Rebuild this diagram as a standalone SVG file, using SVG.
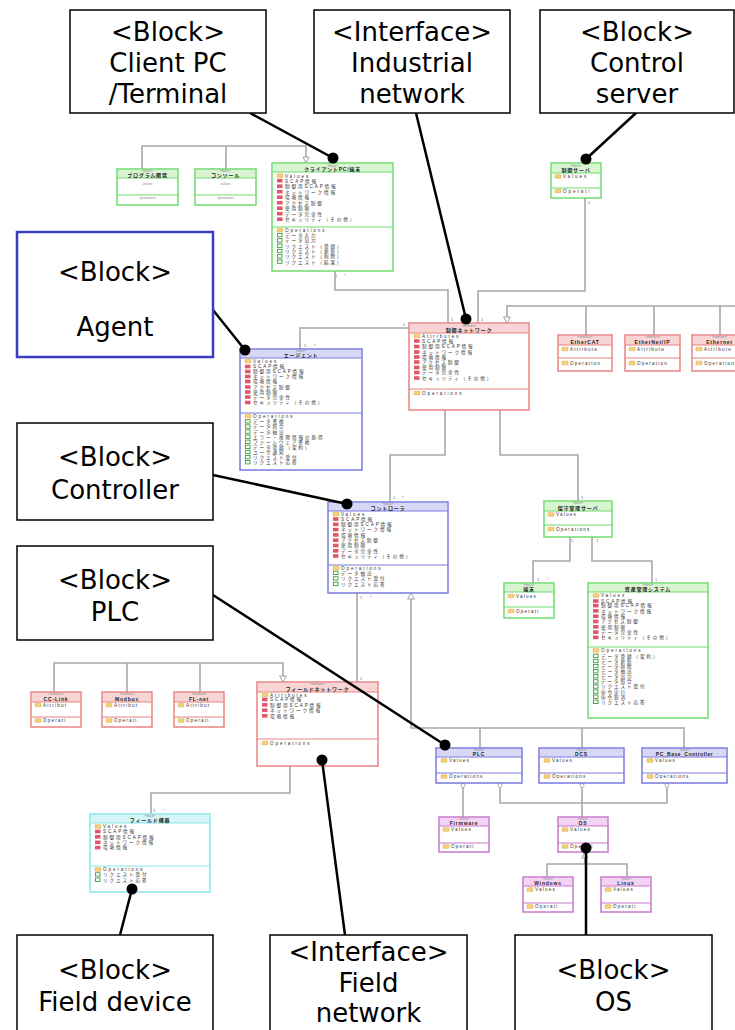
<svg xmlns="http://www.w3.org/2000/svg" xmlns:xlink="http://www.w3.org/1999/xlink" width="735" height="1030" viewBox="0 0 735 1030">
<style>
.co{fill:#fff;stroke:#000;stroke-width:1.5}
.ct{font-family:"DejaVu Sans",sans-serif;font-size:26px;text-anchor:middle;fill:#000}
.cl{stroke:#000;stroke-width:2.5;fill:none}
.dot{fill:#000}
.cn{stroke:#a8a8a8;stroke-width:1.6;fill:none}
.tri{fill:#fff;stroke:#a0a0a0;stroke-width:1}
.ring{fill:#fff;stroke:#a0a0a0;stroke-width:0.8}
.bx{fill:#fff;stroke-width:1.5}
.sp{stroke-width:1;fill:none}
.green .bx,.green .sp{stroke:#6fdc6f}.green .hd{fill:#d9f4d1}
.red .bx,.red .sp{stroke:#e88282}.red .hd{fill:#f8d4d4}
.blue .bx,.blue .sp{stroke:#7a7ae0}.blue .hd{fill:#d8d8f6}
.cyan .bx,.cyan .sp{stroke:#88e6ea}.cyan .hd{fill:#d6f5f6}
.pink .bx,.pink .sp{stroke:#c878cc}.pink .hd{fill:#f3d2f3}
.nm{font-family:"Liberation Sans","Noto Sans CJK JP",sans-serif;font-size:5px;font-weight:bold;text-anchor:middle;letter-spacing:0.8px;fill:#222}
.st{font-family:"Liberation Sans",sans-serif;font-size:3px;text-anchor:middle;fill:#888}
.tx{font-family:"Liberation Sans","Noto Sans CJK JP",sans-serif;font-size:4.6px;letter-spacing:1.9px;fill:#333}
.tg{font-family:"Liberation Sans",sans-serif;font-size:3.5px;text-anchor:middle;fill:#888}
.ml{font-family:"Liberation Sans",sans-serif;font-size:4px;fill:#666}
</style>
<defs>
<g id="fd"><rect x="0" y="-3.6" width="6" height="3.6" rx="0.5" fill="#f6d27a" stroke="#d4a54a" stroke-width="0.5"/></g>
<rect id="ar" x="0" y="-3.6" width="5.5" height="3.6" fill="#e0566a"/>
<rect id="op" x="0.4" y="-3.6" width="4.6" height="3.4" fill="#fff" stroke="#3c9c3c" stroke-width="0.9"/>
</defs>

<g id="connectors">
<path class="cn" d="M142 169V146H306V157M226 169V146"/>
<polygon class="tri" points="303,157 309,157 306,163"/>
<path class="cn" d="M585 198V291H478V323"/>
<path class="cn" d="M335 271V290H448V323"/>
<path class="cn" d="M300 349V328H409"/>
<path class="cn" d="M507 317V306H740M586 306V335M654 306V335M720 306V335"/>
<polygon class="tri" points="503.5,317 510.5,317 507,323"/>
<path class="cn" d="M445 410V455H390V502"/>
<path class="cn" d="M500 410V455H578V501"/>
<path class="cn" d="M570 537V561H533V583M592 537V561H652V583"/>
<path class="cn" d="M357 593V682"/>
<path class="cn" d="M411 599V728H684V748M480 728V748M582 728V748"/>
<polygon class="tri" points="407.5,599 414.5,599 411,593"/>
<path class="cn" d="M54 692V663H283V676M127 663V692M200 663V692"/>
<polygon class="tri" points="279.5,676 286.5,676 283,682"/>
<path class="cn" d="M290 766V793H151V814"/>
<path class="cn" d="M463 785V817M500 785V803H667V785M582 785V817"/>
<circle class="ring" cx="463" cy="785.5" r="2"/>
<circle class="ring" cx="500" cy="785.5" r="2"/>
<circle class="ring" cx="582" cy="785.5" r="2"/>
<circle class="ring" cx="667" cy="785.5" r="2"/>
<path class="cn" d="M585 857V864M547 877V864H627V877"/>
<polygon class="tri" points="582,858 588,858 585,852"/>
<g class="ml">
<text x="335" y="277">1</text><text x="344" y="277">*</text>
<text x="451" y="321">1</text><text x="481" y="321">1</text>
<text x="403" y="326">1</text>
<text x="304" y="347">1</text><text x="314" y="347">*</text>
<text x="588" y="204">1</text>
<text x="393" y="499">1</text><text x="402" y="499">*</text>
<text x="360" y="599">1</text><text x="370" y="599">*</text>
<text x="581" y="499">1</text>
<text x="571" y="542">1</text><text x="596" y="542">1</text>
<text x="537" y="581">1</text><text x="547" y="581">*</text>
<text x="655" y="581">1</text>
<text x="360" y="680">1</text>
<text x="153" y="812">1</text><text x="163" y="812">*</text>
</g>
</g>

<g id="n-program" class="green">
<rect class="bx" x="117" y="169" width="61" height="36"/>
<rect class="hd" x="118" y="170" width="59" height="8"/>
<path class="sp" d="M117 178H178M117 195H178"/>
<text class="st" x="147.5" y="172">«block»</text>
<text class="nm" x="147.5" y="176.5">プログラム開発</text>
<text class="tg" x="147.5" y="185">values</text>
<text class="tg" x="147.5" y="199">operations</text>
</g>
<g id="n-console" class="green">
<rect class="bx" x="195" y="169" width="61" height="36"/>
<rect class="hd" x="196" y="170" width="59" height="8"/>
<path class="sp" d="M195 178H256M195 195H256"/>
<text class="st" x="225.5" y="172">«block»</text>
<text class="nm" x="225.5" y="176.5">コンソール</text>
<text class="tg" x="225.5" y="185">values</text>
<text class="tg" x="225.5" y="199">operations</text>
</g>

<g id="n-client" class="green">
<rect class="bx" x="272" y="163" width="121" height="108"/>
<rect class="hd" x="273" y="164" width="119" height="8"/>
<path class="sp" d="M272 172H393M272 227H393"/>
<text class="st" x="332.5" y="166.5">«block»</text>
<text class="nm" x="332.5" y="171">クライアントPC/端末</text>
<use href="#fd" x="277" y="177.5"/><text class="tx" x="285" y="177.5">Values</text>
<use href="#ar" x="277" y="182.5"/><text class="tx" x="285" y="182.5">SCAP情報</text>
<use href="#ar" x="277" y="188"/><text class="tx" x="285" y="188">制御用SCAP情報</text>
<use href="#ar" x="277" y="193.5"/><text class="tx" x="285" y="193.5">ネットワーク情報</text>
<use href="#ar" x="277" y="199"/><text class="tx" x="285" y="199">環境情報</text>
<use href="#ar" x="277" y="204.5"/><text class="tx" x="285" y="204.5">アクセス制御</text>
<use href="#ar" x="277" y="210"/><text class="tx" x="285" y="210">使用制限</text>
<use href="#ar" x="277" y="215.5"/><text class="tx" x="285" y="215.5">データ完全性</text>
<use href="#ar" x="277" y="221"/><text class="tx" x="285" y="221">セキュリティ（その他）</text>
<use href="#fd" x="277" y="232"/><text class="tx" x="285" y="232">Operations</text>
<use href="#op" x="277" y="237"/><text class="tx" x="285" y="237">データ入力</text>
<use href="#op" x="277" y="242.3"/><text class="tx" x="285" y="242.3">データ出力</text>
<use href="#op" x="277" y="247.6"/><text class="tx" x="285" y="247.6">リクエスト（登録）</text>
<use href="#op" x="277" y="252.9"/><text class="tx" x="285" y="252.9">リクエスト（更新）</text>
<use href="#op" x="277" y="258.2"/><text class="tx" x="285" y="258.2">リクエスト（削除）</text>
<use href="#op" x="277" y="263.5"/><text class="tx" x="285" y="263.5">リクエスト（結果）</text>
</g>

<g id="n-ctrlserver" class="green">
<rect class="bx" x="551" y="163" width="50" height="35"/>
<rect class="hd" x="552" y="164" width="48" height="9"/>
<path class="sp" d="M551 173H601M551 188H601"/>
<text class="st" x="576" y="166.5">«block»</text>
<text class="nm" x="576" y="171.5">制御サーバ</text>
<use href="#fd" x="555" y="178.3"/><text class="tx" x="563" y="178.3">Values</text>
<use href="#fd" x="555" y="192.8"/><text class="tx" x="563" y="192.8">Operati</text>
</g>

<g id="n-industrial" class="red">
<rect class="bx" x="409" y="323" width="120" height="87"/>
<rect class="hd" x="410" y="324" width="118" height="9"/>
<path class="sp" d="M409 333H529M409 389H529"/>
<text class="st" x="469" y="326.5">«interface»</text>
<text class="nm" x="469" y="331.5">制御ネットワーク</text>
<use href="#fd" x="414" y="337.8"/><text class="tx" x="422" y="337.8">Attributes</text>
<use href="#ar" x="414" y="342.8"/><text class="tx" x="422" y="342.8">SCAP情報</text>
<use href="#ar" x="414" y="348.3"/><text class="tx" x="422" y="348.3">制御用SCAP情報</text>
<use href="#ar" x="414" y="353.8"/><text class="tx" x="422" y="353.8">ネットワーク情報</text>
<use href="#ar" x="414" y="358.8"/><text class="tx" x="422" y="358.8">環境情報</text>
<use href="#ar" x="414" y="363.8"/><text class="tx" x="422" y="363.8">アクセス制御</text>
<use href="#ar" x="414" y="369.3"/><text class="tx" x="422" y="369.3">使用制限</text>
<use href="#ar" x="414" y="374.3"/><text class="tx" x="422" y="374.3">データ完全性</text>
<use href="#ar" x="414" y="379.8"/><text class="tx" x="422" y="379.8">セキュリティ（その他）</text>
<use href="#fd" x="414" y="394.8"/><text class="tx" x="422" y="394.8">Operations</text>
</g>

<g id="n-ethercat" class="red">
<rect class="bx" x="558" y="335" width="54" height="36"/>
<rect class="hd" x="559" y="336" width="52" height="9"/>
<path class="sp" d="M558 345H612M558 358H612"/>
<text class="st" x="585" y="338.3">«interface»</text>
<text class="nm" x="585" y="343.5">EtherCAT</text>
<use href="#fd" x="562" y="350.8"/><text class="tx" x="570" y="350.8" style="letter-spacing:1.2px">Attribute</text>
<use href="#fd" x="562" y="364.8"/><text class="tx" x="570" y="364.8" style="letter-spacing:1.2px">Operation</text>
</g>
<g id="n-ethernetip" class="red">
<rect class="bx" x="625" y="335" width="55" height="36"/>
<rect class="hd" x="626" y="336" width="53" height="9"/>
<path class="sp" d="M625 345H680M625 358H680"/>
<text class="st" x="652.5" y="338.3">«interface»</text>
<text class="nm" x="652.5" y="343.5">EtherNet/IP</text>
<use href="#fd" x="629" y="350.8"/><text class="tx" x="637" y="350.8" style="letter-spacing:1.2px">Attribute</text>
<use href="#fd" x="629" y="364.8"/><text class="tx" x="637" y="364.8" style="letter-spacing:1.2px">Operation</text>
</g>
<g id="n-ethernet" class="red">
<rect class="bx" x="692" y="335" width="55" height="36"/>
<rect class="hd" x="693" y="336" width="53" height="9"/>
<path class="sp" d="M692 345H747M692 358H747"/>
<text class="st" x="719.5" y="338.3">«interface»</text>
<text class="nm" x="719.5" y="343.5">Ethernet</text>
<use href="#fd" x="696" y="350.8"/><text class="tx" x="704" y="350.8" style="letter-spacing:1.2px">Attribute</text>
<use href="#fd" x="696" y="364.8"/><text class="tx" x="704" y="364.8" style="letter-spacing:1.2px">Operation</text>
</g>

<g id="n-agent" class="blue">
<rect class="bx" x="240" y="349" width="122" height="121"/>
<rect class="hd" x="241" y="350" width="120" height="8"/>
<path class="sp" d="M240 358H362M240 413H362"/>
<text class="st" x="301" y="352">«block»</text>
<text class="nm" x="301" y="356.8">エージェント</text>
<use href="#fd" x="245" y="362.8"/><text class="tx" x="253" y="362.8">Values</text>
<use href="#ar" x="245" y="368.3"/><text class="tx" x="253" y="368.3">SCAP情報</text>
<use href="#ar" x="245" y="373.3"/><text class="tx" x="253" y="373.3">制御用SCAP情報</text>
<use href="#ar" x="245" y="378.3"/><text class="tx" x="253" y="378.3">ネットワーク情報</text>
<use href="#ar" x="245" y="383.3"/><text class="tx" x="253" y="383.3">環境情報</text>
<use href="#ar" x="245" y="388.8"/><text class="tx" x="253" y="388.8">アクセス制御</text>
<use href="#ar" x="245" y="393.8"/><text class="tx" x="253" y="393.8">使用制限</text>
<use href="#ar" x="245" y="398.8"/><text class="tx" x="253" y="398.8">データ完全性</text>
<use href="#ar" x="245" y="404.3"/><text class="tx" x="253" y="404.3">セキュリティ（その他）</text>
<use href="#fd" x="245" y="417.8"/><text class="tx" x="253" y="417.8">Operations</text>
<use href="#op" x="245" y="423.3"/><text class="tx" x="253" y="423.3">データ書換</text>
<use href="#op" x="245" y="428.4"/><text class="tx" x="253" y="428.4">データ照合</text>
<use href="#op" x="245" y="433.5"/><text class="tx" x="253" y="433.5">データ抽出</text>
<use href="#op" x="245" y="438.6"/><text class="tx" x="253" y="438.6">エラー・故障情報の取得</text>
<use href="#op" x="245" y="443.7"/><text class="tx" x="253" y="443.7">ファームウェア書換</text>
<use href="#op" x="245" y="448.8"/><text class="tx" x="253" y="448.8">データ登録（契約）</text>
<use href="#op" x="245" y="453.9"/><text class="tx" x="253" y="453.9">ユーザ通知</text>
<use href="#op" x="245" y="459"/><text class="tx" x="253" y="459">リクエスト受付</text>
<use href="#op" x="245" y="464.1"/><text class="tx" x="253" y="464.1">リクエスト応答</text>
</g>

<g id="n-controller" class="blue">
<rect class="bx" x="328" y="502" width="120" height="91"/>
<rect class="hd" x="329" y="503" width="118" height="8"/>
<path class="sp" d="M328 511H448M328 565H448"/>
<text class="st" x="388" y="505">«block»</text>
<text class="nm" x="388" y="509.8">コントローラ</text>
<use href="#fd" x="333" y="515.8"/><text class="tx" x="341" y="515.8">Values</text>
<use href="#ar" x="333" y="520.8"/><text class="tx" x="341" y="520.8">SCAP情報</text>
<use href="#ar" x="333" y="526.1"/><text class="tx" x="341" y="526.1">制御用SCAP情報</text>
<use href="#ar" x="333" y="531.4"/><text class="tx" x="341" y="531.4">ネットワーク情報</text>
<use href="#ar" x="333" y="536.7"/><text class="tx" x="341" y="536.7">環境情報</text>
<use href="#ar" x="333" y="542"/><text class="tx" x="341" y="542">アクセス制御</text>
<use href="#ar" x="333" y="547.3"/><text class="tx" x="341" y="547.3">使用制限</text>
<use href="#ar" x="333" y="552.6"/><text class="tx" x="341" y="552.6">データ完全性</text>
<use href="#ar" x="333" y="557.8"/><text class="tx" x="341" y="557.8">セキュリティ（その他）</text>
<use href="#fd" x="333" y="569.8"/><text class="tx" x="341" y="569.8">Operations</text>
<use href="#op" x="333" y="574.8"/><text class="tx" x="341" y="574.8">データ抽出</text>
<use href="#op" x="333" y="580.3"/><text class="tx" x="341" y="580.3">リクエスト受付</text>
<use href="#op" x="333" y="585.8"/><text class="tx" x="341" y="585.8">リクエスト応答</text>
</g>

<g id="n-maintserver" class="green">
<rect class="bx" x="544" y="501" width="68" height="36"/>
<rect class="hd" x="545" y="502" width="66" height="9"/>
<path class="sp" d="M544 511H612M544 525H612"/>
<text class="st" x="578" y="504.3">«block»</text>
<text class="nm" x="578" y="509.5">保守管理サーバ</text>
<use href="#fd" x="548" y="516.3"/><text class="tx" x="556" y="516.3" style="letter-spacing:1.2px">Values</text>
<use href="#fd" x="548" y="530.8"/><text class="tx" x="556" y="530.8" style="letter-spacing:1.2px">Operations</text>
</g>

<g id="n-terminal" class="green">
<rect class="bx" x="504" y="583" width="50" height="35"/>
<rect class="hd" x="505" y="584" width="48" height="8"/>
<path class="sp" d="M504 592H554M504 607H554"/>
<text class="st" x="529" y="586">«block»</text>
<text class="nm" x="529" y="590.8">端末</text>
<use href="#fd" x="508" y="597.8"/><text class="tx" x="516" y="597.8" style="letter-spacing:1.2px">Values</text>
<use href="#fd" x="508" y="612.8"/><text class="tx" x="516" y="612.8" style="letter-spacing:1.2px">Operati</text>
</g>

<g id="n-asset" class="green">
<rect class="bx" x="588" y="583" width="120" height="135"/>
<rect class="hd" x="589" y="584" width="118" height="8"/>
<path class="sp" d="M588 592H708M588 647H708"/>
<text class="st" x="648" y="586">«block»</text>
<text class="nm" x="648" y="590.8">資産管理システム</text>
<use href="#fd" x="593" y="597.3"/><text class="tx" x="601" y="597.3">Values</text>
<use href="#ar" x="593" y="602.8"/><text class="tx" x="601" y="602.8">SCAP情報</text>
<use href="#ar" x="593" y="607.4"/><text class="tx" x="601" y="607.4">制御用SCAP情報</text>
<use href="#ar" x="593" y="612.7"/><text class="tx" x="601" y="612.7">ネットワーク情報</text>
<use href="#ar" x="593" y="618"/><text class="tx" x="601" y="618">環境情報</text>
<use href="#ar" x="593" y="623.3"/><text class="tx" x="601" y="623.3">アクセス制御</text>
<use href="#ar" x="593" y="628.6"/><text class="tx" x="601" y="628.6">使用制限</text>
<use href="#ar" x="593" y="633.9"/><text class="tx" x="601" y="633.9">データ完全性</text>
<use href="#ar" x="593" y="639.2"/><text class="tx" x="601" y="639.2">セキュリティ（その他）</text>
<use href="#fd" x="593" y="652.3"/><text class="tx" x="601" y="652.3">Operations</text>
<use href="#op" x="593" y="657.8"/><text class="tx" x="601" y="657.8">データ登録（契約）</text>
<use href="#op" x="593" y="662.9"/><text class="tx" x="601" y="662.9">データ更新</text>
<use href="#op" x="593" y="668"/><text class="tx" x="601" y="668">データ削除</text>
<use href="#op" x="593" y="673.1"/><text class="tx" x="601" y="673.1">データ抽出</text>
<use href="#op" x="593" y="678.2"/><text class="tx" x="601" y="678.2">データ出力</text>
<use href="#op" x="593" y="683.3"/><text class="tx" x="601" y="683.3">データ照合</text>
<use href="#op" x="593" y="688.4"/><text class="tx" x="601" y="688.4">リクエスト受付</text>
<use href="#op" x="593" y="693.5"/><text class="tx" x="601" y="693.5">命令実行</text>
<use href="#op" x="593" y="698.6"/><text class="tx" x="601" y="698.6">命令取消</text>
<use href="#op" x="593" y="703.7"/><text class="tx" x="601" y="703.7">リクエスト応答</text>
</g>

<g id="n-cclink" class="red">
<rect class="bx" x="31" y="692" width="50" height="35"/>
<rect class="hd" x="32" y="693" width="48" height="9"/>
<path class="sp" d="M31 702H81M31 717H81"/>
<text class="st" x="56" y="695.3">«interface»</text>
<text class="nm" x="56" y="700.5">CC-Link</text>
<use href="#fd" x="35" y="706.8"/><text class="tx" x="43" y="706.8" style="letter-spacing:1.2px">Attribut</text>
<use href="#fd" x="35" y="722.3"/><text class="tx" x="43" y="722.3" style="letter-spacing:1.2px">Operati</text>
</g>
<g id="n-modbus" class="red">
<rect class="bx" x="102" y="692" width="50" height="35"/>
<rect class="hd" x="103" y="693" width="48" height="9"/>
<path class="sp" d="M102 702H152M102 717H152"/>
<text class="st" x="127" y="695.3">«interface»</text>
<text class="nm" x="127" y="700.5">Modbus</text>
<use href="#fd" x="106" y="706.8"/><text class="tx" x="114" y="706.8" style="letter-spacing:1.2px">Attribut</text>
<use href="#fd" x="106" y="722.3"/><text class="tx" x="114" y="722.3" style="letter-spacing:1.2px">Operati</text>
</g>
<g id="n-flnet" class="red">
<rect class="bx" x="174" y="692" width="50" height="35"/>
<rect class="hd" x="175" y="693" width="48" height="9"/>
<path class="sp" d="M174 702H224M174 717H224"/>
<text class="st" x="199" y="695.3">«interface»</text>
<text class="nm" x="199" y="700.5">FL-net</text>
<use href="#fd" x="178" y="706.8"/><text class="tx" x="186" y="706.8" style="letter-spacing:1.2px">Attribut</text>
<use href="#fd" x="178" y="722.3"/><text class="tx" x="186" y="722.3" style="letter-spacing:1.2px">Operati</text>
</g>

<g id="n-fieldnet" class="red">
<rect class="bx" x="257" y="682" width="121" height="84"/>
<rect class="hd" x="258" y="683" width="119" height="9"/>
<path class="sp" d="M257 692H378M257 739H378"/>
<text class="st" x="317.5" y="685.3">«interface»</text>
<text class="nm" x="317.5" y="690.5">フィールドネットワーク</text>
<use href="#fd" x="262" y="696.8"/><text class="tx" x="270" y="696.8">Attributes</text>
<use href="#ar" x="262" y="701.3"/><text class="tx" x="270" y="701.3">SCAP情報</text>
<use href="#ar" x="262" y="706.6"/><text class="tx" x="270" y="706.6">制御用SCAP情報</text>
<use href="#ar" x="262" y="712.1"/><text class="tx" x="270" y="712.1">ネットワーク情報</text>
<use href="#ar" x="262" y="717.6"/><text class="tx" x="270" y="717.6">環境情報</text>
<use href="#fd" x="262" y="744.8"/><text class="tx" x="270" y="744.8">Operations</text>
</g>

<g id="n-fielddevice" class="cyan">
<rect class="bx" x="90" y="814" width="120" height="78"/>
<rect class="hd" x="91" y="815" width="118" height="8"/>
<path class="sp" d="M90 823H210M90 866H210"/>
<text class="st" x="150" y="817">«block»</text>
<text class="nm" x="150" y="821.7">フィールド機器</text>
<use href="#fd" x="95" y="828.3"/><text class="tx" x="103" y="828.3">Values</text>
<use href="#ar" x="95" y="833.3"/><text class="tx" x="103" y="833.3">SCAP情報</text>
<use href="#ar" x="95" y="838.6"/><text class="tx" x="103" y="838.6">制御用SCAP情報</text>
<use href="#ar" x="95" y="844.1"/><text class="tx" x="103" y="844.1">ネットワーク情報</text>
<use href="#ar" x="95" y="849.4"/><text class="tx" x="103" y="849.4">環境情報</text>
<use href="#fd" x="95" y="871.3"/><text class="tx" x="103" y="871.3">Operations</text>
<use href="#op" x="95" y="876.3"/><text class="tx" x="103" y="876.3">リクエスト受付</text>
<use href="#op" x="95" y="881.6"/><text class="tx" x="103" y="881.6">リクエスト応答</text>
</g>

<g id="n-plc" class="blue">
<rect class="bx" x="436" y="748" width="86" height="35"/>
<rect class="hd" x="437" y="749" width="84" height="8"/>
<path class="sp" d="M436 757H522M436 773H522"/>
<text class="st" x="479" y="751">«block»</text>
<text class="nm" x="479" y="755.7">PLC</text>
<use href="#fd" x="441" y="762.3"/><text class="tx" x="449" y="762.3" style="letter-spacing:1.2px">Values</text>
<use href="#fd" x="441" y="778.3"/><text class="tx" x="449" y="778.3" style="letter-spacing:1.2px">Operations</text>
</g>
<g id="n-dcs" class="blue">
<rect class="bx" x="539" y="748" width="85" height="35"/>
<rect class="hd" x="540" y="749" width="83" height="8"/>
<path class="sp" d="M539 757H624M539 773H624"/>
<text class="st" x="581.5" y="751">«block»</text>
<text class="nm" x="581.5" y="755.7">DCS</text>
<use href="#fd" x="544" y="762.3"/><text class="tx" x="552" y="762.3" style="letter-spacing:1.2px">Values</text>
<use href="#fd" x="544" y="778.3"/><text class="tx" x="552" y="778.3" style="letter-spacing:1.2px">Operations</text>
</g>
<g id="n-pcbase" class="blue">
<rect class="bx" x="642" y="748" width="85" height="35"/>
<rect class="hd" x="643" y="749" width="83" height="8"/>
<path class="sp" d="M642 757H727M642 773H727"/>
<text class="st" x="684.5" y="751">«block»</text>
<text class="nm" x="684.5" y="755.7" style="letter-spacing:0.5px">PC_Base_Controller</text>
<use href="#fd" x="647" y="762.3"/><text class="tx" x="655" y="762.3" style="letter-spacing:1.2px">Values</text>
<use href="#fd" x="647" y="778.3"/><text class="tx" x="655" y="778.3" style="letter-spacing:1.2px">Operations</text>
</g>

<g id="n-firmware" class="pink">
<rect class="bx" x="439" y="817" width="50" height="35"/>
<rect class="hd" x="440" y="818" width="48" height="8"/>
<path class="sp" d="M439 826H489M439 843H489"/>
<text class="st" x="464" y="820">«block»</text>
<text class="nm" x="464" y="824.7">Firmware</text>
<use href="#fd" x="443" y="831.3"/><text class="tx" x="451" y="831.3" style="letter-spacing:1.2px">Values</text>
<use href="#fd" x="443" y="848.3"/><text class="tx" x="451" y="848.3" style="letter-spacing:1.2px">Operati</text>
</g>
<g id="n-os" class="pink">
<rect class="bx" x="558" y="817" width="50" height="35"/>
<rect class="hd" x="559" y="818" width="48" height="8"/>
<path class="sp" d="M558 826H608M558 843H608"/>
<text class="st" x="583" y="820">«block»</text>
<text class="nm" x="583" y="824.7">OS</text>
<use href="#fd" x="562" y="831.3"/><text class="tx" x="570" y="831.3" style="letter-spacing:1.2px">Values</text>
<use href="#fd" x="562" y="848.3"/><text class="tx" x="570" y="848.3" style="letter-spacing:1.2px">Operati</text>
</g>
<g id="n-windows" class="pink">
<rect class="bx" x="523" y="877" width="50" height="35"/>
<rect class="hd" x="524" y="878" width="48" height="8"/>
<path class="sp" d="M523 886H573M523 903H573"/>
<text class="st" x="548" y="880">«block»</text>
<text class="nm" x="548" y="884.7">Windows</text>
<use href="#fd" x="527" y="891.3"/><text class="tx" x="535" y="891.3" style="letter-spacing:1.2px">Values</text>
<use href="#fd" x="527" y="908.3"/><text class="tx" x="535" y="908.3" style="letter-spacing:1.2px">Operati</text>
</g>
<g id="n-linux" class="pink">
<rect class="bx" x="601" y="877" width="50" height="35"/>
<rect class="hd" x="602" y="878" width="48" height="8"/>
<path class="sp" d="M601 886H651M601 903H651"/>
<text class="st" x="626" y="880">«block»</text>
<text class="nm" x="626" y="884.7">Linux</text>
<use href="#fd" x="605" y="891.3"/><text class="tx" x="613" y="891.3" style="letter-spacing:1.2px">Values</text>
<use href="#fd" x="605" y="908.3"/><text class="tx" x="613" y="908.3" style="letter-spacing:1.2px">Operati</text>
</g>

<g id="callout-lines">
<path class="cl" d="M250 113L333 158M416 113L466 319M636 113L586 159M213 310L245 350M213 475L347 504M213 595L445 745M322 760L345 935M132 889L120 935M586 848V935"/>
<circle class="dot" cx="333" cy="158" r="5.5"/>
<circle class="dot" cx="466" cy="319" r="5.5"/>
<circle class="dot" cx="586" cy="159" r="5.5"/>
<circle class="dot" cx="245" cy="350" r="5.5"/>
<circle class="dot" cx="347" cy="504" r="5.5"/>
<circle class="dot" cx="445" cy="745" r="5.5"/>
<circle class="dot" cx="322" cy="760" r="5.5"/>
<circle class="dot" cx="132" cy="889" r="5.5"/>
<circle class="dot" cx="586" cy="848" r="5.5"/>
</g>

<g id="c-client">
<rect class="co" x="70" y="10" width="196" height="103"/>
<text class="ct" x="168" y="41">&lt;Block&gt;</text>
<text class="ct" x="168" y="72">Client PC</text>
<text class="ct" x="168" y="103">/Terminal</text>
</g>
<g id="c-industrial">
<rect class="co" x="314" y="10" width="196" height="103"/>
<text class="ct" x="412" y="41">&lt;Interface&gt;</text>
<text class="ct" x="412" y="72">Industrial</text>
<text class="ct" x="412" y="103">network</text>
</g>
<g id="c-ctrlserver">
<rect class="co" x="540" y="10" width="194" height="103"/>
<text class="ct" x="637" y="41">&lt;Block&gt;</text>
<text class="ct" x="637" y="72">Control</text>
<text class="ct" x="637" y="103">server</text>
</g>
<g id="c-agent">
<rect x="17" y="232" width="196" height="125" fill="#fff" stroke="#3b3bc4" stroke-width="2.5"/>
<text class="ct" x="115" y="281">&lt;Block&gt;</text>
<text class="ct" x="115" y="336">Agent</text>
</g>
<g id="c-controller">
<rect class="co" x="17" y="423" width="196" height="97"/>
<text class="ct" x="115" y="466">&lt;Block&gt;</text>
<text class="ct" x="115" y="499">Controller</text>
</g>
<g id="c-plc">
<rect class="co" x="17" y="546" width="196" height="94"/>
<text class="ct" x="115" y="589">&lt;Block&gt;</text>
<text class="ct" x="115" y="621">PLC</text>
</g>
<g id="c-fielddevice">
<rect class="co" x="17" y="935" width="196" height="100"/>
<text class="ct" x="115" y="979">&lt;Block&gt;</text>
<text class="ct" x="115" y="1011">Field device</text>
</g>
<g id="c-fieldnet">
<rect class="co" x="270" y="935" width="197" height="100"/>
<text class="ct" x="368.5" y="961">&lt;Interface&gt;</text>
<text class="ct" x="368.5" y="992">Field</text>
<text class="ct" x="368.5" y="1022">network</text>
</g>
<g id="c-os">
<rect class="co" x="515" y="935" width="197" height="100"/>
<text class="ct" x="613.5" y="979">&lt;Block&gt;</text>
<text class="ct" x="613.5" y="1011">OS</text>
</g>
</svg>
